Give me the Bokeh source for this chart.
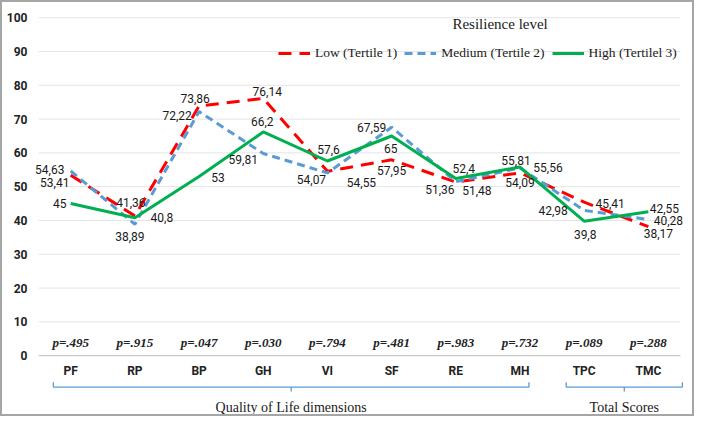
from bokeh.plotting import figure
from bokeh.models import ColumnDataSource, FixedTicker, Legend, LegendItem
from bokeh.core.properties import value
from bokeh.embed import file_html
from bokeh.resources import INLINE

# ---------------- data ----------------
categories = ["PF", "RP", "BP", "GH", "VI", "SF", "RE", "MH", "TPC", "TMC"]
low = [53.41, 41.36, 73.86, 76.14, 54.55, 57.95, 51.36, 54.09, 45.41, 38.17]
medium = [54.63, 38.89, 72.22, 59.81, 54.07, 67.59, 51.48, 55.56, 42.98, 40.28]
high = [45.0, 40.8, 53.0, 66.2, 57.6, 65.0, 52.4, 55.81, 39.8, 42.55]
p_values = ["p=.495", "p=.915", "p=.047", "p=.030", "p=.794",
            "p=.481", "p=.983", "p=.732", "p=.089", "p=.288"]
series_names = ["Low (Tertile 1)", "Medium (Tertile 2)", "High (Tertilel 3)"]
legend_title = "Resilience level"
groups = ["Quality of Life dimensions", "Total Scores"]
group_members = [[0, 1, 2, 3, 4, 5, 6, 7], [8, 9]]
y_ticks = [0, 10, 20, 30, 40, 50, 60, 70, 80, 90, 100]

# ---------------- styling / layout ----------------
RED, BLUE, GREEN = "#FF0000", "#5B9BD5", "#00B050"
LABEL_FONT = "Roboto"
SERIF = "Liberation Serif"

# label offsets in screen pixels (dx, dy; dy positive = down)
low_off = [(-16, 7), (-4, -13), (-4, -8), (4, -7), (34, 11), (0, 11),
           (-16, 7), (0, 10), (26, 1), (10, 7)]
med_off = [(-21, -2), (-5, 12), (-22, 4), (-20, 6), (-16, 7), (-20, 0),
           (21, 9), (28, 0), (-31, 0), (20, 1)]
high_off = [(-11, 0), (27, 0), (19, 1), (-1, -10), (1, -11), (-1, 13),
            (8, -10), (-4, -7), (1, 13), (16, -3)]
brace_pad = [(0.27, 0.14), (0.28, 0.53)]

xs = list(range(1, len(categories) + 1))

p = figure(width=694, height=416, x_range=(0.28, 10.75), y_range=(-18.6, 104.5),
           output_backend="svg", toolbar_location=None,
           min_border_left=22, min_border_right=0, min_border_top=0, min_border_bottom=0)
p.styles = {"border": "2px solid #a6a6a6"}
p.outline_line_color = None
p.xaxis.visible = False
p.xgrid.visible = False
p.ygrid.visible = False

ax = p.yaxis[0]
ax.ticker = FixedTicker(ticks=y_ticks)
ax.axis_line_color = None
ax.major_tick_line_color = None
ax.minor_tick_line_color = None
ax.major_label_text_font = LABEL_FONT
ax.major_label_text_font_size = "12px"
ax.major_label_text_font_style = "bold"
ax.major_label_text_color = "#222222"
ax.major_label_standoff = -9

# gridlines (limited to 0.5 .. 10.5)
grid_src = ColumnDataSource(dict(x0=[0.5] * (len(y_ticks) - 1), x1=[10.5] * (len(y_ticks) - 1),
                                 y=y_ticks[1:]))
p.segment(x0="x0", x1="x1", y0="y", y1="y", source=grid_src, line_color="#e4e4e4", line_width=1)
p.segment(x0=[0.5], x1=[10.5], y0=[y_ticks[0]], y1=[y_ticks[0]], line_color="#c9c9c9", line_width=1.2)

# lines
r_low = p.line(xs, low, line_color=RED, line_width=3, line_dash="13 8")
r_med = p.line(xs, medium, line_color=BLUE, line_width=3, line_dash="8 5")
r_high = p.line(xs, high, line_color=GREEN, line_width=3)


def labels(vals, offs):
    src = ColumnDataSource(dict(x=xs, y=vals, t=[f"{v:g}".replace(".", ",") for v in vals],
                                dx=[o[0] for o in offs], dy=[o[1] for o in offs]))
    p.text(x="x", y="y", text="t", x_offset="dx", y_offset="dy", source=src,
           text_font=value(LABEL_FONT), text_font_size="12px", text_color="#1a1a1a",
           text_align="center", text_baseline="middle")


labels(low, low_off)
labels(medium, med_off)
labels(high, high_off)

# p-values
p.text(x=xs, y=[4] * len(xs), text=p_values, text_font=value(SERIF), text_font_size="13px",
       text_font_style="bold italic", text_color="#222222", text_align="center", text_baseline="middle")

# category labels
p.text(x=xs, y=[-4.6] * len(xs), text=categories, text_font=value(LABEL_FONT), text_font_size="12px",
       text_font_style="bold", text_color="#222222", text_align="center", text_baseline="middle")

# group braces + labels
bx, by, mids = [], [], []
for mem, (pl, pr) in zip(group_members, brace_pad):
    a = xs[mem[0]] - pl
    b = xs[mem[-1]] + pr
    m = (a + b) / 2
    mids.append(m)
    bx.append([a, a, b, b])
    by.append([-7.9, -9.3, -9.3, -7.9])
    bx.append([m, m])
    by.append([-9.3, -10.6])
p.multi_line(bx, by, line_color=BLUE, line_width=1.3)
p.text(x=mids, y=[-15.2] * len(mids), text=groups, text_font=value(SERIF), text_font_size="14px",
       text_color="#1a1a1a", text_align="center", text_baseline="middle")

# legend title
p.text(x=[7.69], y=[98.2], text=[legend_title], text_font=value(SERIF), text_font_size="15px",
       text_color="#1a1a1a", text_align="center", text_baseline="middle")

legend = Legend(items=[LegendItem(label=series_names[0], renderers=[r_low]),
                       LegendItem(label=series_names[1], renderers=[r_med]),
                       LegendItem(label=series_names[2], renderers=[r_high])],
                orientation="horizontal", location=(254, 356),
                glyph_width=32, glyph_height=18, label_standoff=5, spacing=7,
                padding=0, margin=0, border_line_color=None, background_fill_alpha=0,
                label_text_font=SERIF, label_text_font_size="13.5px", label_text_color="#1a1a1a")
p.add_layout(legend, "center")

open("out.html", "w").write(file_html(p, INLINE))
